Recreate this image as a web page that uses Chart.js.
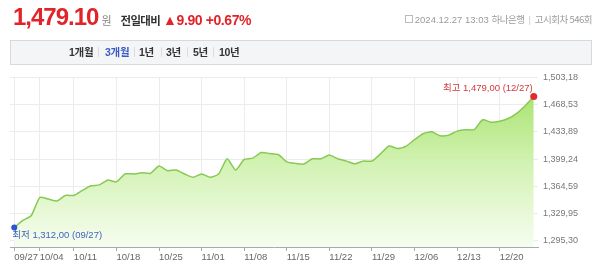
<!DOCTYPE html>
<html>
<head>
<meta charset="utf-8">
<script src="https://cdn.jsdelivr.net/npm/chart.js@4.4.1/dist/chart.umd.min.js"></script>
<style>
  html, body { margin: 0; padding: 0; background: #fff; overflow: hidden; }
  body { width: 600px; height: 277px; position: relative; font-family: 'Liberation Sans', 'Noto Sans CJK KR', sans-serif; }
  #chart { position: absolute; left: 0; top: 0; }
  .abs { position: absolute; white-space: nowrap; }
  #title { left: 13px; top: 3px; display: flex; align-items: baseline; }
  .price { font-size: 24px; font-weight: bold; color: #e0242a; letter-spacing: -1px; }
  .won { font-size: 11px; color: #888; margin-left: 3px; font-family: 'Noto Sans CJK KR', sans-serif; }
  .lbl { font-size: 11.5px; font-weight: bold; color: #333; margin-left: 9px; font-family: 'Noto Sans CJK KR', sans-serif; letter-spacing: -0.7px; }
  .chg { font-size: 14px; font-weight: bold; color: #e0242a; margin-left: 3px; letter-spacing: -0.4px; }
  #info { right: 8px; top: 12px; font-size: 9.5px; color: #9a9a9a; display: flex; align-items: center; }
  #info .ic { width: 6px; height: 6px; border: 1px solid #bbb; margin-right: 2px; }
  #info .sep { color: #ccc; margin: 0 4px; }
  #info .kr { font-family: 'Noto Sans CJK KR', sans-serif; letter-spacing: -0.5px; }
  #tabs { left: 10px; top: 40px; width: 582px; height: 25px; box-sizing: border-box; background: #f4f5f7; border: 1px solid #d9d9d9; }
  .tab { position: absolute; top: 3px; font-size: 10.5px; font-weight: bold; color: #333; letter-spacing: -0.3px; font-family: 'Liberation Sans', 'Noto Sans CJK KR', sans-serif; }
  .tab.on { color: #3a5bc7; }
  .bar { position: absolute; top: 6px; width: 1px; height: 10px; background: #dcdcdc; }
</style>
</head>
<body>
<canvas id="chart" width="600" height="277"></canvas>

<div id="title" class="abs">
  <span class="price">1,479.10</span><span class="won">원</span><span class="lbl">전일대비</span><span class="chg">▲9.90 +0.67%</span>
</div>
<div id="info" class="abs"><span class="ic"></span>2024.12.27 13:03&nbsp;<span class="kr">하나은행</span><span class="sep">|</span><span class="kr">고시회차 546회</span></div>
<div id="tabs" class="abs">
  <span class="tab" style="left:58px">1개월</span>
  <span class="bar" style="left:87px"></span>
  <span class="tab on" style="left:94px">3개월</span>
  <span class="bar" style="left:123px"></span>
  <span class="tab" style="left:128px">1년</span>
  <span class="bar" style="left:150px"></span>
  <span class="tab" style="left:155px">3년</span>
  <span class="bar" style="left:176px"></span>
  <span class="tab" style="left:182px">5년</span>
  <span class="bar" style="left:202px"></span>
  <span class="tab" style="left:208px">10년</span>
</div>

<script>
// trading days (MM/DD)
const dates = [
  '09/27','09/30','10/02','10/04',
  '10/07','10/08','10/10','10/11',
  '10/14','10/15','10/16','10/17','10/18',
  '10/21','10/22','10/23','10/24','10/25',
  '10/28','10/29','10/30','10/31','11/01',
  '11/04','11/05','11/06','11/07','11/08',
  '11/11','11/12','11/13','11/14','11/15',
  '11/18','11/19','11/20','11/21','11/22',
  '11/25','11/26','11/27','11/28','11/29',
  '12/02','12/03','12/04','12/05','12/06',
  '12/09','12/10','12/11','12/12','12/13',
  '12/16','12/17','12/18','12/19','12/20',
  '12/23','12/24','12/26','12/27'
];

// USD/KRW
const rates = [
  1312.0, 1321.1, 1327.4, 1350.4,
  1348.4, 1345.9, 1353.0, 1353.0,
  1359.3, 1365.2, 1366.4, 1372.7, 1370.2,
  1380.3, 1380.3, 1381.9, 1381.2, 1390.4,
  1384.5, 1385.4, 1380.3, 1376.1, 1380.3,
  1376.1, 1380.3, 1399.6, 1385.4, 1398.8,
  1400.5, 1407.7, 1406.4, 1405.1, 1395.8,
  1393.8, 1392.9, 1399.6, 1399.6, 1404.6,
  1399.6, 1396.7, 1393.3, 1396.7, 1396.7,
  1405.9, 1416.0, 1412.7, 1415.6, 1424.0,
  1431.6, 1434.1, 1429.1, 1429.8, 1434.9,
  1436.7, 1436.7, 1449.3, 1446.2, 1447.5,
  1450.9, 1457.6, 1467.3, 1479.0
];

const xTickLabels = ['09/27','10/04','10/11','10/18','10/25','11/01','11/08','11/15','11/22','11/29','12/06','12/13','12/20'];
const yTicks = [1295.30, 1329.95, 1364.59, 1399.24, 1433.89, 1468.53, 1503.18];
const yTickLabels = ['1,295,30','1,329,95','1,364,59','1,399,24','1,433,89','1,468,53','1,503,18'];

const fmt = v => {
  const [i, d] = v.toFixed(2).split('.');
  return i.replace(/\B(?=(\d{3})+(?!\d))/g, ',') + ',' + d;
};

const iMax = rates.indexOf(Math.max(...rates));
const iMin = rates.indexOf(Math.min(...rates));

const FONT = "'Liberation Sans', 'Noto Sans CJK KR', sans-serif";
Chart.defaults.font.family = FONT;
Chart.defaults.font.size = 9.5;

// hi / low labels next to the marked points
const hiLo = {
  id: 'hiLo',
  afterDatasetsDraw(chart) {
    const pts = chart.getDatasetMeta(0).data;
    const c = chart.ctx;
    c.save();
    c.font = '9.5px ' + FONT;
    const hi = pts[iMax];
    c.fillStyle = '#d23b3b';
    c.textAlign = 'right';
    c.textBaseline = 'bottom';
    c.fillText('최고 ' + fmt(rates[iMax]) + ' (' + dates[iMax] + ')', hi.x - 1, hi.y - 3);
    const lo = pts[iMin];
    c.fillStyle = '#4361c2';
    c.textAlign = 'left';
    c.textBaseline = 'top';
    c.fillText('최저 ' + fmt(rates[iMin]) + ' (' + dates[iMin] + ')', lo.x - 2, lo.y + 3);
    c.restore();
  }
};

new Chart(document.getElementById('chart'), {
  type: 'line',
  data: {
    labels: dates,
    datasets: [{
      data: rates,
      borderColor: '#88c955',
      borderWidth: 1.5,
      tension: 0.2,
      fill: 'start',
      backgroundColor: (ctx) => {
        const area = ctx.chart.chartArea;
        if (!area) return 'rgba(160,225,100,0.5)';
        const g = ctx.chart.ctx.createLinearGradient(0, area.top, 0, area.bottom);
        g.addColorStop(0, '#a0e060');
        g.addColorStop(0.5, '#d2f2b2');
        g.addColorStop(1, '#f6fdf0');
        return g;
      },
      pointRadius: (ctx) => (ctx.dataIndex === iMax ? 3.5 : ctx.dataIndex === iMin ? 3 : 0),
      pointBackgroundColor: (ctx) => (ctx.dataIndex === iMax ? '#e32b2b' : '#2e55d0'),
      pointBorderWidth: 0,
      clip: false
    }]
  },
  options: {
    responsive: false,
    animation: false,
    devicePixelRatio: 1,
    layout: { padding: { top: 77.5, left: 10, right: 12, bottom: 0 } },
    scales: {
      x: {
        type: 'category',
        offset: true,
        afterBuildTicks: (s) => { s.ticks = s.ticks.filter(t => xTickLabels.includes(dates[t.value])); },
        afterFit: (s) => { s.height = 30; },
        grid: { color: '#ececec', tickColor: '#aaa', tickLength: 4, offset: false },
        border: { display: true, color: '#aaa' },
        ticks: {
          autoSkip: false,
          maxRotation: 0,
          minRotation: 0,
          align: 'start',
          padding: 1,
          color: '#666',
          callback: (v) => dates[v]
        }
      },
      y: {
        position: 'right',
        min: 1287.3,
        max: 1503.18,
        afterBuildTicks: (s) => { s.ticks = yTicks.map(v => ({ value: v })); },
        afterFit: (s) => { s.width = 50; },
        grid: { color: '#ececec', drawTicks: false },
        border: { display: false },
        ticks: {
          padding: 5,
          color: '#777',
          font: { size: 9 },
          callback: (v, i) => yTickLabels[i]
        }
      }
    },
    plugins: {
      legend: { display: false },
      tooltip: { enabled: false }
    }
  },
  plugins: [hiLo]
});
</script>
</body>
</html>
